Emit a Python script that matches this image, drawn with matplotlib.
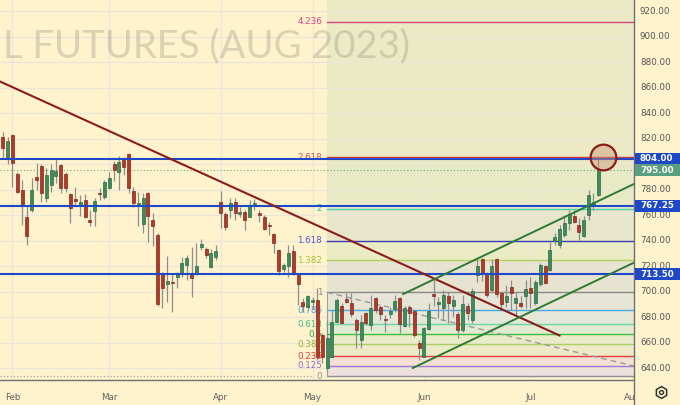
import matplotlib
matplotlib.use("Agg")
import matplotlib.pyplot as plt
import numpy as np

# ---------------- data ----------------
opens = [821.4, 804.9, 822.7, 791.9, 779.6, 758.7, 763.9, 790.0, 798.4, 773.6,
         783.5, 790.8, 799.2, 791.9, 776.5, 772.6, 767.3, 771.8, 756.3, 763.1,
         777.5, 774.4, 781.4, 799.8, 793.9, 804.5, 807.6, 778.8, 767.3, 753.2,
         777.0, 756.1, 744.3, 714.3, 705.9, 707.7, 711.6, 715.5, 720.8, 713.7,
         714.7, 735.1, 733.1, 719.5, 727.3, 770.4, 760.8, 763.9, 770.4, 760.8,
         762.6, 758.7, 768.4, 761.8, 758.7, 752.2, 744.9, 732.6, 717.4, 720.0,
         732.0, 714.3, 691.8, 688.1, 691.8, 693.3, 665.9, 640.0, 648.9, 676.3,
         688.6, 693.9, 690.7, 677.6, 661.9, 682.9, 673.7, 694.7, 688.1, 678.6,
         682.3, 686.3, 694.7, 673.1, 688.1, 684.5, 659.6, 648.9, 670.6, 697.7,
         690.2, 686.8, 696.5, 688.6, 682.3, 669.8, 688.6, 677.6, 712.9, 725.3,
         714.3, 701.2, 725.3, 699.1, 691.4, 703.5, 691.2, 691.2, 696.3, 702.7,
         690.6, 705.7, 719.8, 716.9, 739.9, 736.5, 744.3, 753.5, 759.2, 752.2,
         743.5, 760.0, 767.8, 775.7]
highs = [824.9, 821.4, 823.3, 793.9, 787.5, 767.8, 789.0, 800.5, 799.8, 796.6,
         799.8, 804.5, 799.8, 793.9, 777.0, 782.2, 775.7, 776.2, 763.9, 773.6,
         781.4, 787.5, 793.9, 802.4, 806.5, 805.7, 808.4, 782.2, 778.3, 777.0,
         778.3, 761.3, 745.9, 715.5, 727.8, 714.3, 715.5, 727.3, 728.6, 735.1,
         737.8, 740.9, 735.1, 733.1, 736.5, 779.0, 762.6, 773.1, 773.1, 766.5,
         763.9, 771.8, 772.3, 763.9, 760.0, 754.7, 745.6, 733.5, 722.1, 736.5,
         736.5, 714.7, 694.9, 697.3, 695.9, 702.5, 667.5, 677.6, 685.5, 694.9,
         690.7, 698.6, 698.6, 679.0, 681.6, 684.2, 697.3, 695.9, 689.4, 681.6,
         688.1, 697.3, 695.9, 688.6, 689.4, 686.0, 661.9, 672.4, 690.7, 710.3,
         695.9, 701.2, 699.8, 697.3, 684.2, 697.3, 690.7, 702.5, 725.3, 726.0,
         715.5, 725.3, 726.0, 699.8, 705.1, 709.0, 699.8, 696.7, 709.0, 711.6,
         709.0, 722.6, 721.0, 739.1, 745.6, 752.2, 760.0, 763.9, 763.9, 757.4,
         759.2, 779.6, 777.0, 804.0]
lows = [805.7, 800.0, 782.2, 777.0, 752.2, 736.5, 762.6, 779.6, 770.4, 769.9,
        778.3, 784.9, 777.0, 778.3, 753.5, 767.8, 759.4, 757.4, 751.6, 751.6,
        771.8, 772.6, 780.4, 786.7, 779.6, 791.4, 777.0, 766.5, 751.6, 745.6,
        738.6, 735.9, 688.6, 686.8, 691.8, 684.2, 702.7, 711.4, 709.0, 695.9,
        712.9, 732.6, 726.0, 718.2, 724.7, 749.6, 748.2, 757.4, 756.1, 758.7,
        748.2, 758.7, 763.9, 754.7, 748.2, 744.3, 729.9, 712.9, 715.5, 711.6,
        712.9, 689.4, 683.9, 685.5, 686.3, 646.3, 643.9, 637.6, 647.8, 675.3,
        675.0, 690.7, 680.2, 655.4, 655.4, 673.7, 669.8, 682.9, 677.6, 668.5,
        679.0, 684.2, 667.5, 671.8, 672.4, 664.6, 646.3, 648.6, 669.8, 688.6,
        679.2, 677.6, 675.0, 680.2, 663.3, 668.5, 677.6, 675.3, 707.7, 708.2,
        695.9, 699.8, 695.9, 685.5, 688.1, 685.5, 680.2, 687.1, 687.3, 686.8,
        689.4, 704.3, 705.6, 716.3, 736.5, 733.9, 743.0, 748.2, 753.5, 740.4,
        743.0, 756.1, 763.9, 774.9]
closes = [812.8, 818.0, 800.5, 778.3, 768.4, 743.8, 779.6, 787.5, 777.0, 791.4,
          795.3, 794.5, 780.9, 781.4, 765.2, 771.0, 770.2, 758.7, 754.2, 771.0,
          776.5, 785.6, 788.8, 795.3, 801.8, 797.9, 781.4, 769.2, 769.2, 773.1,
          759.4, 751.6, 690.2, 702.5, 708.2, 706.4, 714.5, 722.1, 726.0, 710.3,
          720.0, 737.0, 728.6, 730.4, 731.8, 761.8, 750.4, 769.6, 761.8, 762.6,
          756.1, 767.8, 769.2, 760.0, 748.8, 751.4, 737.8, 716.3, 720.8, 729.9,
          714.3, 705.9, 688.6, 696.5, 693.3, 648.6, 648.9, 663.5, 676.1, 693.3,
          675.5, 692.0, 682.3, 669.8, 676.3, 675.0, 686.8, 685.5, 682.3, 677.6,
          684.7, 692.8, 674.4, 687.3, 682.9, 665.9, 655.4, 671.1, 684.7, 696.3,
          691.4, 697.3, 691.2, 693.3, 669.8, 690.2, 683.4, 700.6, 720.0, 714.3,
          697.3, 720.0, 698.0, 690.2, 696.5, 698.8, 694.7, 689.0, 701.7, 698.8,
          707.7, 720.4, 706.7, 732.6, 742.7, 748.8, 753.9, 760.8, 754.7, 746.9,
          756.1, 775.7, 770.4, 795.0]

month_labels = ["Feb", "Mar", "Apr", "May", "Jun", "Jul", "Aug"]
month_bars = [2, 22, 45, 64, 87, 109, 130]

price_ticks = [640, 660, 680, 700, 720, 740, 760, 780, 800, 820, 840, 860, 880, 900, 920]

support_levels = [804.00, 767.25, 713.50]
last_price = 795.00

fib_low = 633.7
fib_high = 699.3
fib_levels = [0, 0.125, 0.236, 0.382, 0.5, 0.618, 0.786, 1, 1.382, 1.618, 2, 2.618, 4.236]
fib_labels = ["0", "0.125", "0.236", "0.382", "0.5", "0.618", "0.786", "1",
              "1.382", "1.618", "2", "2.618", "4.236"]
fib_start_bar = 67
fib_end_bar = 139

trend_bars = [-2, 115]
trend_prices = [867.2, 665.5]
chan_upper_bars = [82.7, 135]
chan_upper_prices = [698.0, 792.7]
chan_lower_bars = [84.7, 135]
chan_lower_prices = [640.0, 731.0]

circle_bar = 124.0
circle_price = 805.2

watermark = "L FUTURES (AUG 2023)"

# ---------------- style ----------------
CREAM = "#FFF3CE"
GRID = "#ECE6D4"
UP, UP_EDGE = "#3E8B5C", "#2A6B44"
DN, DN_EDGE = "#B0392A", "#84281C"
WICK = "#8E8E8E"
BLUE = "#1E48C8"
fib_line_colors = ["#8A8D96", "#A07AD6", "#E23C3C", "#A9CF62", "#3CBE3C", "#6CD4A8",
                   "#4AA8E6", "#8A8A8A", "#B4D05A", "#3B3DB0", "#4CCFB0", "#D63A3A", "#D4457A"]
fib_text_colors = ["#8A8D96", "#8E6FD2", "#E03A3A", "#8DB23A", "#2EAA2E", "#3CC08A",
                   "#3FA0E0", "#8A8A8A", "#A3C23A", "#5858CC", "#22C3A0", "#E04848", "#E0408A"]
band_colors = ["#EEE0DF", "#F4E1D3", "#EDEAC7", "#E8ECC8", "#E2EBD2", "#E3E8D8",
               "#E7E6D6", "#E6E3D1", "#EBEBC6", "#E7E6CA", "#E8E9C5", "#ECEAC5", "#ECEAC5"]

W, H = 680, 405
PLOT_R, PLOT_B = 634, 380
fig = plt.figure(figsize=(W / 100, H / 100), dpi=100)
fig.patch.set_facecolor(CREAM)

ax = fig.add_axes([0, (H - PLOT_B) / H, PLOT_R / W, PLOT_B / H])
ax.set_facecolor(CREAM)
px_per_bar = 4.842
x0 = -2.7 / px_per_bar
ax.set_xlim(x0, x0 + PLOT_R / px_per_bar)
top_price = 928.63
price_per_px = 0.78431
ax.set_ylim(top_price - PLOT_B * price_per_px, top_price)

# grid
ax.set_axisbelow(True)
ax.set_yticks(price_ticks)
ax.set_xticks(month_bars)
ax.set_xticklabels(month_labels)
ax.grid(True, color=GRID, lw=1.0, zorder=0.5)
ax.tick_params(axis="y", left=False, labelleft=False)
ax.tick_params(axis="x", length=0, pad=9, labelsize=6.3, labelcolor="#606060")
for s in ["top", "left", "right"]:
    ax.spines[s].set_visible(False)
ax.spines["bottom"].set_color("#707070")
ax.spines["bottom"].set_linewidth(1.0)

# fib background bands
fib_prices = [fib_low + l * (fib_high - fib_low) for l in fib_levels]
xmax = ax.get_xlim()[1]
bounds = fib_prices + [top_price + 5]
for i in range(len(bounds) - 1):
    ax.fill_between([fib_start_bar, xmax + 2], bounds[i], bounds[i + 1],
                    color=band_colors[i], lw=0, zorder=0.2)

# watermark
ax.text(3 / PLOT_R, 1 - 57 / PLOT_B, watermark, transform=ax.transAxes,
        fontsize=27.5, family=["Liberation Sans Narrow", "Lato"], color=(0.42, 0.42, 0.38),
        alpha=0.24, ha="left", va="baseline", zorder=0.6)

# fib lines and labels
for p, lbl, lc, tc in zip(fib_prices, fib_labels, fib_line_colors, fib_text_colors):
    ax.plot([fib_start_bar, xmax + 2], [p, p], color=lc, lw=1.0, zorder=1)
    ax.text(fib_start_bar - 1.0, p, lbl, color=tc, fontsize=6.3, ha="right",
            va="center", zorder=1.1)
# fib trend line (dashed) and left edge
ax.plot([fib_start_bar, fib_end_bar], [fib_high, fib_low], color="#9A9A9A",
        lw=1.0, ls=(0, (4, 3)), zorder=1.2)
ax.plot([fib_start_bar, fib_start_bar], [fib_low, fib_high], color="#A0A0A0", lw=0.8, zorder=1.2)
ax.plot([x0, fib_start_bar - 3.3], [fib_low, fib_low], color="#9A9A9A", lw=0.8,
        ls=(0, (1, 2)), zorder=1.2)

# last price dotted line
ax.axhline(last_price, color="#5FA57F", lw=0.8, ls=(0, (1, 2)), zorder=1.3)

# candles
idx = np.arange(len(opens))
o = np.array(opens); c = np.array(closes); hi = np.array(highs); lo = np.array(lows)
up = c >= o
ax.vlines(idx, lo, hi, color=WICK, lw=0.9, zorder=3)
body_bottom = np.minimum(o, c)
body_h = np.maximum(np.abs(c - o), 0.9)
ax.bar(idx[up], body_h[up], bottom=body_bottom[up], width=0.62, color=UP,
       edgecolor=UP_EDGE, lw=0.5, zorder=3.1)
ax.bar(idx[~up], body_h[~up], bottom=body_bottom[~up], width=0.62, color=DN,
       edgecolor=DN_EDGE, lw=0.5, zorder=3.1)

# horizontal support lines
for lvl in support_levels:
    ax.axhline(lvl, color=BLUE, lw=1.5, zorder=4)

# trend lines
ax.plot(trend_bars, trend_prices, color="#8B1C1C", lw=1.5, zorder=4.2)
ax.plot(chan_upper_bars, chan_upper_prices, color="#2E7A34", lw=1.4, zorder=4.2)
ax.plot(chan_lower_bars, chan_lower_prices, color="#2E7A34", lw=1.4, zorder=4.2)

# circle marker
ax.plot([circle_bar], [circle_price], marker="o", ms=18.5,
        mfc=(0.80, 0.58, 0.45, 0.45), mec="#8B1C1C", mew=1.6, zorder=5)

# ---------------- right price scale ----------------
ax2 = fig.add_axes([PLOT_R / W, 0, (W - PLOT_R) / W, 1])
ax2.set_facecolor(CREAM)
ax2.set_xlim(0, W - PLOT_R)
ax2.set_ylim(top_price - H * price_per_px, top_price)
ax2.set_xticks([]); ax2.set_yticks([])
for s in ["top", "bottom", "right"]:
    ax2.spines[s].set_visible(False)
ax2.spines["left"].set_color("#707070")
ax2.spines["left"].set_linewidth(1.0)

box_vals = [support_levels[0], last_price, support_levels[1], support_levels[2]]
box_cols = [BLUE, "#5A9F7D", BLUE, BLUE]
box_h = 12 * price_per_px
# hide tick labels that would sit under a price box (as the chart does)
for p in price_ticks:
    if min(abs(p - v) for v in box_vals) < 6.5:
        continue
    ax2.text(6, p, f"{p:.2f}", fontsize=6.3, color="#555555", ha="left", va="center")

for val, col in zip(box_vals, box_cols):
    ax2.add_patch(plt.Rectangle((0.5, val - box_h / 2), W - PLOT_R, box_h,
                                color=col, lw=0, zorder=3))
    ax2.text(6, val, f"{val:.2f}", fontsize=6.3, color="white", ha="left",
             va="center", fontweight="bold", zorder=4)

# settings icon
ax2.plot([27 / (W - PLOT_R)], [1 - 392 / H], marker="h", ms=8.5, mfc="none",
         mec="#333333", mew=1.1, transform=ax2.transAxes, clip_on=False)
ax2.plot([27 / (W - PLOT_R)], [1 - 392 / H], marker="o", ms=2.8, mfc="none",
         mec="#333333", mew=1.0, transform=ax2.transAxes, clip_on=False)

fig.savefig("out.png", dpi=100, facecolor=CREAM)
